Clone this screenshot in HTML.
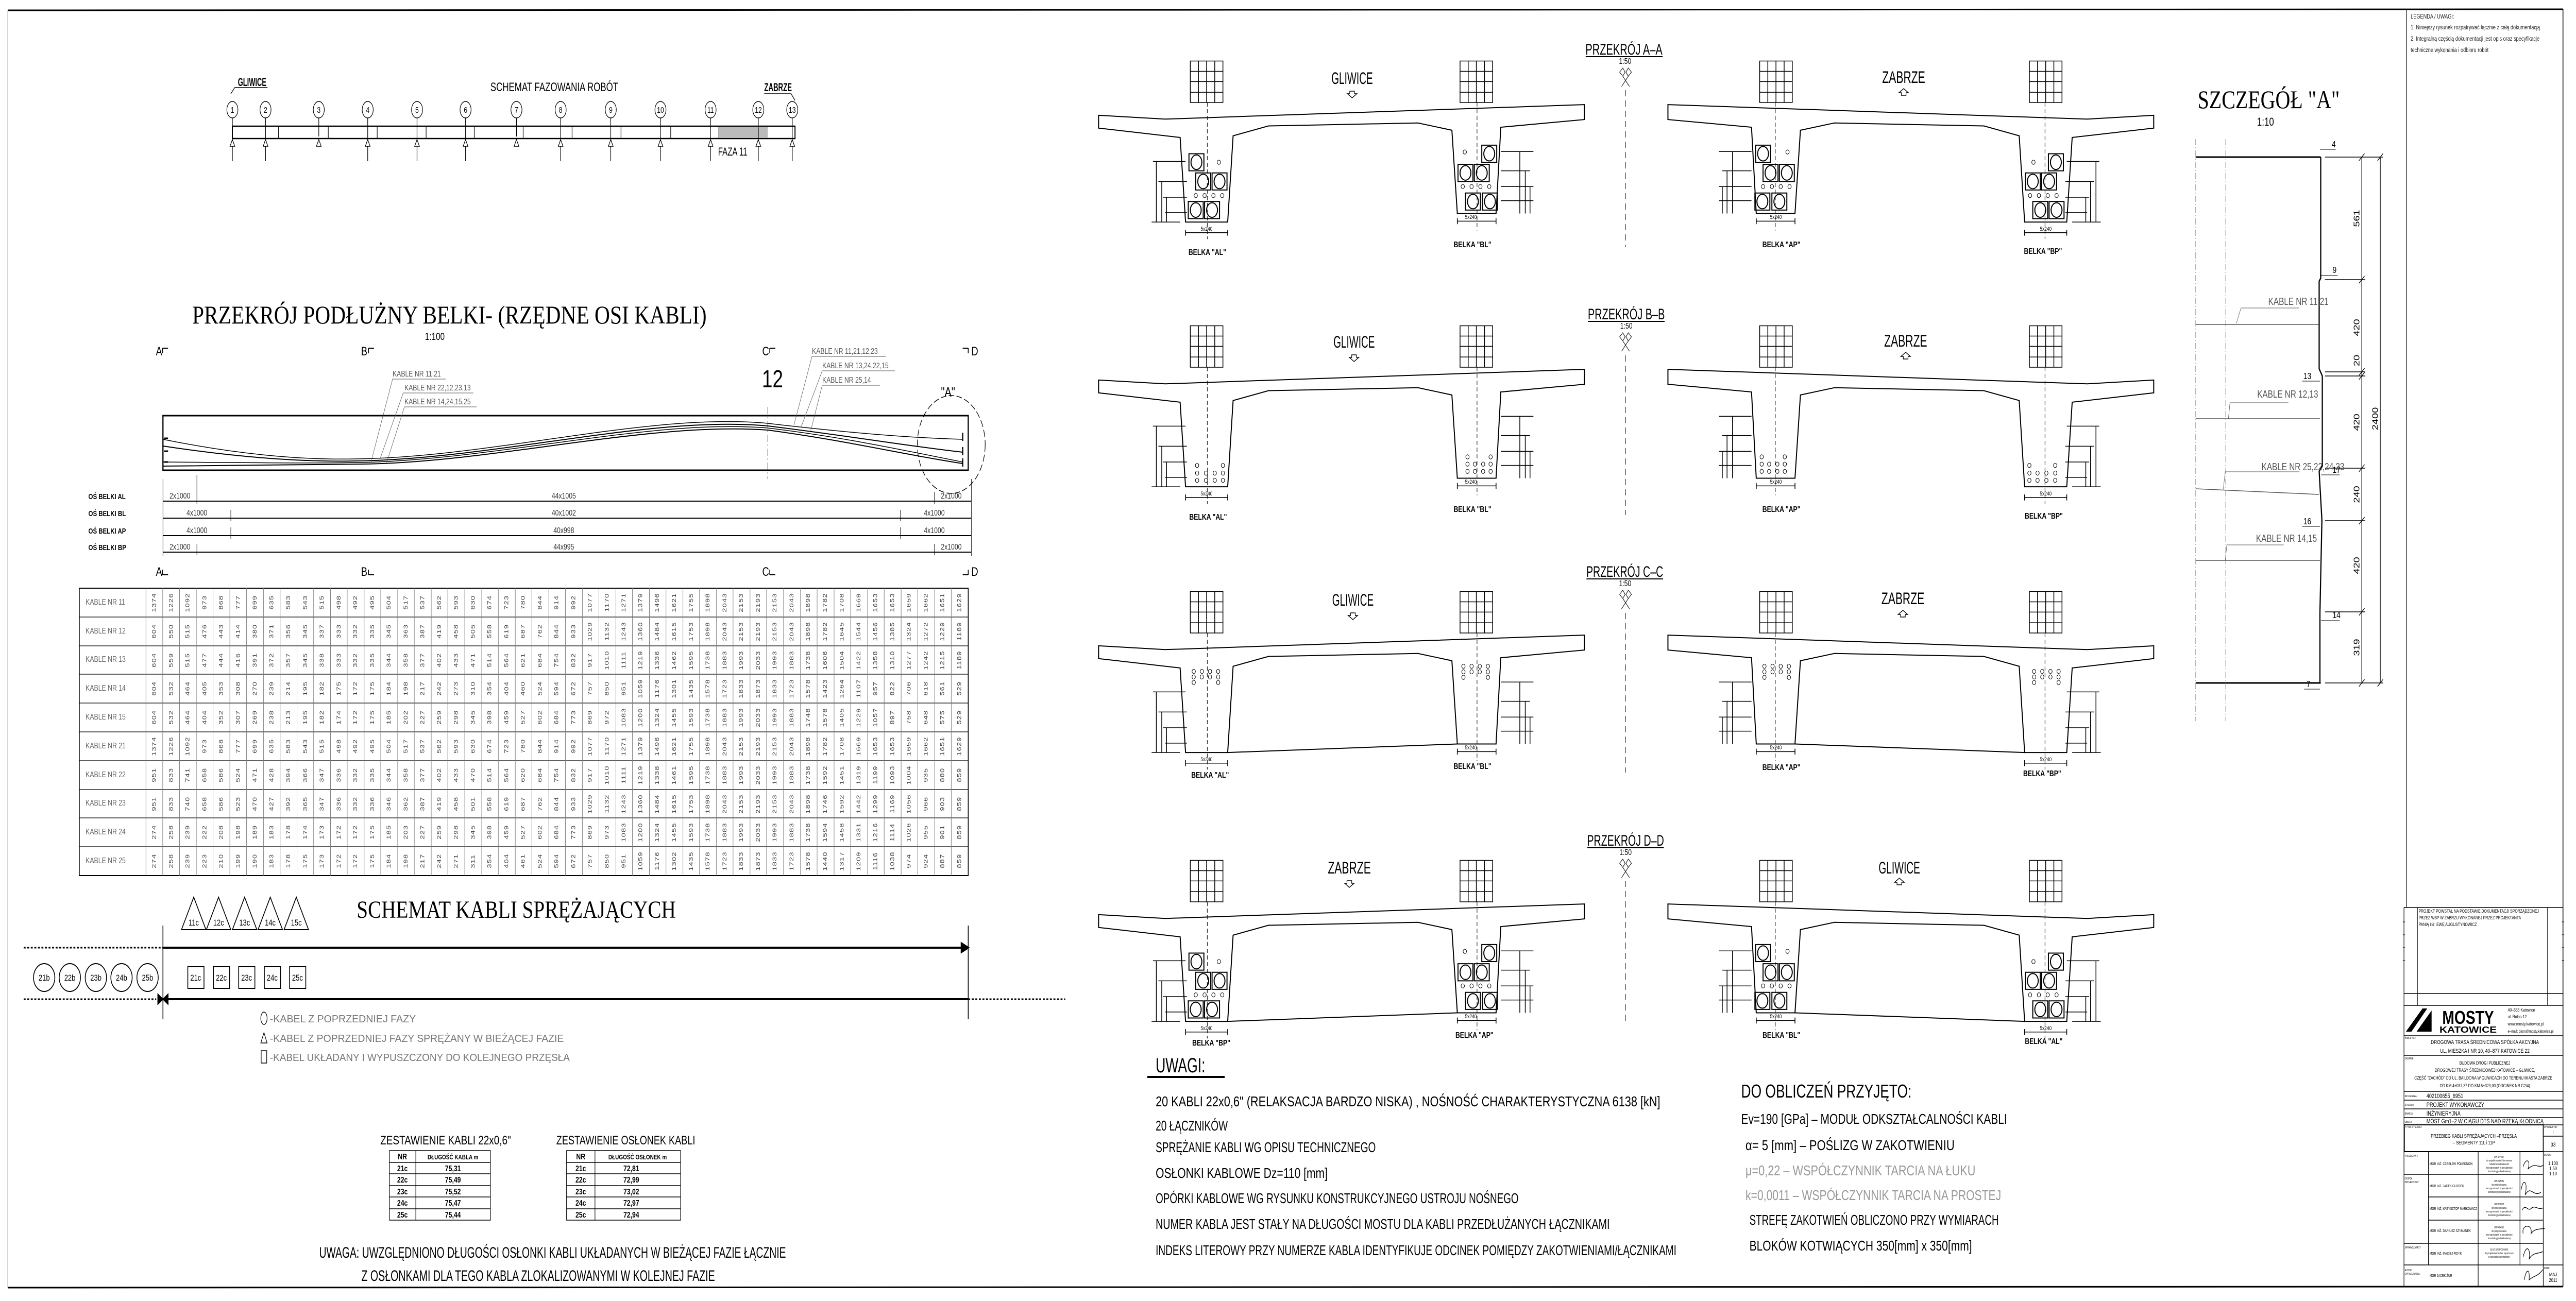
<!DOCTYPE html>
<html><head><meta charset="utf-8">
<style>
html,body{margin:0;padding:0;background:#fff;overflow:hidden;width:100vw;height:100vh}
svg#main{position:absolute;left:0;top:0;width:100vw;height:100vh;display:block}
text{font-family:"Liberation Sans",sans-serif}
.sf{font-family:"Liberation Serif",serif}
#tbl{display:grid;grid-template-columns:169px repeat(49,42.53px);grid-auto-rows:55.8px;width:2253px;height:558px}
#tbl b{font:16px "Liberation Sans",sans-serif;color:#666;display:flex;align-items:center;padding-left:16px;white-space:nowrap}
#tbl i{font:15px "Liberation Sans",sans-serif;font-style:normal;letter-spacing:1px;color:#444;writing-mode:vertical-rl;transform:rotate(180deg);text-align:center;line-height:42px}
</style></head><body>
<svg id="main" viewBox="0 0 6529 2526" preserveAspectRatio="none" xmlns="http://www.w3.org/2000/svg">
<rect x="0" y="0" width="6529" height="2526" fill="#fff"/>
<defs>
<g id="shape" fill="none" stroke="#000">
<polygon vector-effect="non-scaling-stroke" stroke-width="2" points="20,270 118,279 735,245 735,280 612,298 605,500 548,500 540,305 490,288 270,295 218,318 210,520 148,520 140,322 20,300"/>
<line vector-effect="non-scaling-stroke" stroke-width="1" stroke-dasharray="8,5" x1="180" y1="240" x2="180" y2="560"/>
<line vector-effect="non-scaling-stroke" stroke-width="1" stroke-dasharray="8,5" x1="577" y1="240" x2="577" y2="540"/>
<g stroke-width="1.5">
<rect vector-effect="non-scaling-stroke" x="155" y="143" width="48" height="97"/>
<path vector-effect="non-scaling-stroke" d="M167,143V240M179,143V240M191,143V240M155,167H203M155,191H203M155,216H203"/>
<rect vector-effect="non-scaling-stroke" x="552" y="143" width="48" height="97"/>
<path vector-effect="non-scaling-stroke" d="M564,143V240M576,143V240M588,143V240M552,167H600M552,191H600M552,216H600"/>
<path vector-effect="non-scaling-stroke" d="M148,545H210M148,538V552M210,538V552M548,518H605M548,511V525M605,511V525"/>
<path vector-effect="non-scaling-stroke" d="M105,378V520M113,425V520M120,462V520M100,378H148M108,425H150M115,462H150M118,498H150M98,520H140"/>
<path vector-effect="non-scaling-stroke" d="M640,355V500M648,400V500M655,437V500M612,355H660M612,400H655M612,437H660M612,470H660"/>
</g>
</g>
<g id="ducts" fill="none" stroke="#000">
<g stroke-width="2">
<rect vector-effect="non-scaling-stroke" x="153" y="360" width="22" height="40"/><ellipse vector-effect="non-scaling-stroke" cx="164" cy="380" rx="8" ry="17"/>
<rect vector-effect="non-scaling-stroke" x="163" y="405" width="22" height="40"/><ellipse vector-effect="non-scaling-stroke" cx="174" cy="425" rx="8" ry="17"/>
<rect vector-effect="non-scaling-stroke" x="187" y="405" width="22" height="40"/><ellipse vector-effect="non-scaling-stroke" cx="198" cy="425" rx="8" ry="17"/>
<rect vector-effect="non-scaling-stroke" x="152" y="472" width="22" height="40"/><ellipse vector-effect="non-scaling-stroke" cx="163" cy="492" rx="8" ry="17"/>
<rect vector-effect="non-scaling-stroke" x="176" y="472" width="22" height="40"/><ellipse vector-effect="non-scaling-stroke" cx="187" cy="492" rx="8" ry="17"/>
<rect vector-effect="non-scaling-stroke" x="584" y="340" width="22" height="40"/><ellipse vector-effect="non-scaling-stroke" cx="595" cy="360" rx="8" ry="17"/>
<rect vector-effect="non-scaling-stroke" x="549" y="385" width="22" height="40"/><ellipse vector-effect="non-scaling-stroke" cx="560" cy="405" rx="8" ry="17"/>
<rect vector-effect="non-scaling-stroke" x="573" y="385" width="22" height="40"/><ellipse vector-effect="non-scaling-stroke" cx="584" cy="405" rx="8" ry="17"/>
<rect vector-effect="non-scaling-stroke" x="560" y="452" width="22" height="40"/><ellipse vector-effect="non-scaling-stroke" cx="571" cy="472" rx="8" ry="17"/>
<rect vector-effect="non-scaling-stroke" x="585" y="452" width="22" height="40"/><ellipse vector-effect="non-scaling-stroke" cx="596" cy="472" rx="8" ry="17"/>
</g>
<g stroke-width="1">
<ellipse vector-effect="non-scaling-stroke" cx="197" cy="380" rx="2.5" ry="5"/>
<ellipse vector-effect="non-scaling-stroke" cx="163" cy="458" rx="2.5" ry="5"/><ellipse vector-effect="non-scaling-stroke" cx="176" cy="458" rx="2.5" ry="5"/><ellipse vector-effect="non-scaling-stroke" cx="189" cy="458" rx="2.5" ry="5"/><ellipse vector-effect="non-scaling-stroke" cx="202" cy="458" rx="2.5" ry="5"/>
<ellipse vector-effect="non-scaling-stroke" cx="559" cy="356" rx="2.5" ry="5"/>
<ellipse vector-effect="non-scaling-stroke" cx="556" cy="437" rx="2.5" ry="5"/><ellipse vector-effect="non-scaling-stroke" cx="569" cy="437" rx="2.5" ry="5"/><ellipse vector-effect="non-scaling-stroke" cx="582" cy="437" rx="2.5" ry="5"/><ellipse vector-effect="non-scaling-stroke" cx="595" cy="437" rx="2.5" ry="5"/>
</g>
</g>
<g id="circB" fill="none" stroke="#000" stroke-width="1">
<ellipse vector-effect="non-scaling-stroke" cx="165" cy="470" rx="2.5" ry="5"/><ellipse vector-effect="non-scaling-stroke" cx="203" cy="470" rx="2.5" ry="5"/>
<ellipse vector-effect="non-scaling-stroke" cx="165" cy="488" rx="2.5" ry="5"/><ellipse vector-effect="non-scaling-stroke" cx="178" cy="488" rx="2.5" ry="5"/><ellipse vector-effect="non-scaling-stroke" cx="191" cy="488" rx="2.5" ry="5"/><ellipse vector-effect="non-scaling-stroke" cx="203" cy="488" rx="2.5" ry="5"/>
<ellipse vector-effect="non-scaling-stroke" cx="165" cy="505" rx="2.5" ry="5"/><ellipse vector-effect="non-scaling-stroke" cx="178" cy="505" rx="2.5" ry="5"/><ellipse vector-effect="non-scaling-stroke" cx="191" cy="505" rx="2.5" ry="5"/><ellipse vector-effect="non-scaling-stroke" cx="203" cy="505" rx="2.5" ry="5"/>
<ellipse vector-effect="non-scaling-stroke" cx="563" cy="450" rx="2.5" ry="5"/><ellipse vector-effect="non-scaling-stroke" cx="597" cy="450" rx="2.5" ry="5"/>
<ellipse vector-effect="non-scaling-stroke" cx="563" cy="467" rx="2.5" ry="5"/><ellipse vector-effect="non-scaling-stroke" cx="574" cy="467" rx="2.5" ry="5"/><ellipse vector-effect="non-scaling-stroke" cx="586" cy="467" rx="2.5" ry="5"/><ellipse vector-effect="non-scaling-stroke" cx="597" cy="467" rx="2.5" ry="5"/>
<ellipse vector-effect="non-scaling-stroke" cx="563" cy="484" rx="2.5" ry="5"/><ellipse vector-effect="non-scaling-stroke" cx="574" cy="484" rx="2.5" ry="5"/><ellipse vector-effect="non-scaling-stroke" cx="586" cy="484" rx="2.5" ry="5"/><ellipse vector-effect="non-scaling-stroke" cx="597" cy="484" rx="2.5" ry="5"/>
</g>
<g id="circC" fill="none" stroke="#000" stroke-width="1">
<ellipse vector-effect="non-scaling-stroke" cx="160" cy="330" rx="2.5" ry="5"/><ellipse vector-effect="non-scaling-stroke" cx="172" cy="330" rx="2.5" ry="5"/><ellipse vector-effect="non-scaling-stroke" cx="184" cy="330" rx="2.5" ry="5"/><ellipse vector-effect="non-scaling-stroke" cx="196" cy="330" rx="2.5" ry="5"/>
<ellipse vector-effect="non-scaling-stroke" cx="160" cy="343" rx="2.5" ry="5"/><ellipse vector-effect="non-scaling-stroke" cx="172" cy="343" rx="2.5" ry="5"/><ellipse vector-effect="non-scaling-stroke" cx="184" cy="343" rx="2.5" ry="5"/><ellipse vector-effect="non-scaling-stroke" cx="196" cy="343" rx="2.5" ry="5"/>
<ellipse vector-effect="non-scaling-stroke" cx="160" cy="356" rx="2.5" ry="5"/><ellipse vector-effect="non-scaling-stroke" cx="196" cy="356" rx="2.5" ry="5"/>
<ellipse vector-effect="non-scaling-stroke" cx="557" cy="318" rx="2.5" ry="5"/><ellipse vector-effect="non-scaling-stroke" cx="569" cy="318" rx="2.5" ry="5"/><ellipse vector-effect="non-scaling-stroke" cx="581" cy="318" rx="2.5" ry="5"/><ellipse vector-effect="non-scaling-stroke" cx="593" cy="318" rx="2.5" ry="5"/>
<ellipse vector-effect="non-scaling-stroke" cx="557" cy="331" rx="2.5" ry="5"/><ellipse vector-effect="non-scaling-stroke" cx="569" cy="331" rx="2.5" ry="5"/><ellipse vector-effect="non-scaling-stroke" cx="581" cy="331" rx="2.5" ry="5"/><ellipse vector-effect="non-scaling-stroke" cx="593" cy="331" rx="2.5" ry="5"/>
<ellipse vector-effect="non-scaling-stroke" cx="557" cy="344" rx="2.5" ry="5"/><ellipse vector-effect="non-scaling-stroke" cx="593" cy="344" rx="2.5" ry="5"/>
</g>
<line id="slab" vector-effect="non-scaling-stroke" stroke="#000" stroke-width="2" x1="210" y1="520" x2="548" y2="500"/>
</defs>

<!-- frame -->
<g stroke="#000" fill="none">
<line x1="20" y1="20" x2="6496" y2="18" stroke-width="3"/>
<line x1="20" y1="20" x2="20" y2="2500" stroke-width="1.5" stroke="#777"/>
<line x1="20" y1="2500" x2="6496" y2="2498" stroke-width="3"/>
<line x1="6099" y1="18" x2="6099" y2="1762" stroke-width="1.5"/>
<line x1="6496" y1="18" x2="6496" y2="2498" stroke-width="2"/>
</g>

<!-- SCHEMAT FAZOWANIA -->
<g stroke="#000" fill="none" stroke-width="1.5">
<rect x="589" y="245" width="1426" height="24" stroke-width="2.5"/>
<rect x="1822" y="246" width="124" height="22" fill="#bbb" stroke="none"/>
<path d="M706,245V269M832,245V269M956,245V269M1080,245V269M1202,245V269M1326,245V269M1450,245V269M1574,245V269M1700,245V269M1822,245V269"/>
<path d="M589,229V313M673,229V313M808,229V265M932,229V313M1057,229V313M1180,229V313M1309,229V265M1421,229V313M1548,229V313M1674,229V313M1801,229V313M1922,229V313M2008,229V313"/>
<g fill="#fff">
<ellipse cx="589" cy="213" rx="14" ry="16"/><ellipse cx="673" cy="213" rx="14" ry="16"/><ellipse cx="808" cy="213" rx="14" ry="16"/><ellipse cx="932" cy="213" rx="14" ry="16"/><ellipse cx="1057" cy="213" rx="14" ry="16"/><ellipse cx="1180" cy="213" rx="14" ry="16"/><ellipse cx="1309" cy="213" rx="14" ry="16"/><ellipse cx="1421" cy="213" rx="14" ry="16"/><ellipse cx="1548" cy="213" rx="14" ry="16"/><ellipse cx="1674" cy="213" rx="14" ry="16"/><ellipse cx="1801" cy="213" rx="14" ry="16"/><ellipse cx="1922" cy="213" rx="14" ry="16"/><ellipse cx="2008" cy="213" rx="14" ry="16"/>
<path d="M589,271l-6,13h12zM673,271l-6,13h12zM808,271l-6,13h12zM932,271l-6,13h12zM1057,271l-6,13h12zM1180,271l-6,13h12zM1309,271l-6,13h12zM1421,271l-6,13h12zM1548,271l-6,13h12zM1674,271l-6,13h12zM1801,271l-6,13h12zM1922,271l-6,13h12zM2008,271l-6,13h12z"/>
</g>
<path d="M585,182L595,170H678M1937,182H2005L2015,195"/>
</g>
<g font-size="16" text-anchor="middle">
<text x="589" y="219">1</text><text x="673" y="219">2</text><text x="808" y="219">3</text><text x="932" y="219">4</text><text x="1057" y="219">5</text><text x="1180" y="219">6</text><text x="1309" y="219">7</text><text x="1421" y="219">8</text><text x="1548" y="219">9</text><text x="1674" y="219">10</text><text x="1801" y="219">11</text><text x="1922" y="219">12</text><text x="2008" y="219">13</text>
</g>
<text x="603" y="167" font-size="22" font-weight="bold" textLength="72" lengthAdjust="spacingAndGlyphs">GLIWICE</text>
<text x="1243" y="177" font-size="24" textLength="324" lengthAdjust="spacingAndGlyphs">SCHEMAT FAZOWANIA ROBÓT</text>
<text x="1937" y="177" font-size="22" font-weight="bold" textLength="70" lengthAdjust="spacingAndGlyphs">ZABRZE</text>
<text x="1820" y="302" font-size="22" textLength="74" lengthAdjust="spacingAndGlyphs">FAZA 11</text>

<!-- PRZEKROJ PODLUZNY -->
<text class="sf" x="487" y="628" font-size="50" textLength="1304" lengthAdjust="spacingAndGlyphs">PRZEKRÓJ PODŁUŻNY BELKI- (RZĘDNE OSI KABLI)</text>
<text x="1102" y="660" font-size="20" text-anchor="middle">1:100</text>
<g font-size="24">
<text x="395" y="690">A</text><text x="915" y="690">B</text><text x="1932" y="690">C</text><text x="2462" y="690">D</text>
<text x="395" y="1118">A</text><text x="915" y="1118">B</text><text x="1932" y="1118">C</text><text x="2462" y="1118">D</text>
</g>
<path d="M412,676h14m-14,0v10M934,676h14m-14,0v10M1951,676h14m-14,0v10M2440,676h14m0,0v10M412,1116h14m-14,0v-10M934,1116h14m-14,0v-10M1951,1116h14m-14,0v-10M2440,1116h14m0,0v-10" stroke="#000" stroke-width="2" fill="none"/>
<text x="1958" y="752" font-size="48" text-anchor="middle">12</text>
<g stroke="#000" fill="none">
<rect x="413" y="807" width="2041" height="106" stroke-width="3"/>
<path stroke-width="1.5" d="M413,853 C620,885 780,893 900,891 C1250,888 1650,800 1946,822 C2150,840 2300,850 2440,853"/>
<path stroke-width="2" d="M413,866 C620,890 780,897 900,895 C1250,892 1650,806 1946,827 C2150,846 2300,866 2440,878"/>
<path stroke-width="1.5" d="M413,897 C620,898 780,900 900,898 C1250,895 1650,812 1946,831 C2150,850 2300,876 2440,897"/>
<path stroke-width="2" d="M413,905 C620,903 780,903 920,901 C1250,898 1650,818 1946,835 C2150,856 2300,884 2440,900"/>
<path stroke-width="1" d="M1946,790V930" stroke-dasharray="14,5,3,5"/>
<ellipse cx="2411" cy="863" rx="86" ry="95" stroke-dasharray="14,6" stroke-width="1.5"/>
<path stroke-width="1" stroke="#555" d="M940,898L995,736H1130M960,898L1022,763H1200M980,898L1025,790H1208M2012,826L2058,692H2245M2030,830L2084,720H2268M2055,836L2084,748H2230"/>
<path stroke-width="3" d="M416,851h10M416,876h10M416,897h10M2440,840v16M2440,868v16M2440,890v16"/>
</g>
<g font-size="16" fill="#555">
<text x="995" y="731">KABLE NR 11,21</text><text x="1025" y="758">KABLE NR 22,12,23,13</text><text x="1025" y="785">KABLE NR 14,24,15,25</text>
<text x="2058" y="687">KABLE NR 11,21,12,23</text><text x="2084" y="715">KABLE NR 13,24,22,15</text><text x="2084" y="743">KABLE NR 25,14</text>
</g>
<text x="2385" y="770" font-size="26">"A"</text>
<g stroke="#000" fill="none" stroke-width="2">
<path d="M413,973H2462M413,1006H2462M413,1040H2462M413,1072H2462"/>
<path stroke-width="1" d="M413,930V1080M499,922V978M2368,955V978M2462,930V1080M585,990V1012M2282,990V1012M585,1024V1046M2282,1024V1046M499,1056V1078M2368,1056V1078"/>
</g>
<g font-size="15" font-weight="bold"><text x="224" y="969">OŚ BELKI AL</text><text x="224" y="1002">OŚ BELKI BL</text><text x="224" y="1036">OŚ BELKI AP</text><text x="224" y="1068">OŚ BELKI BP</text></g>
<g font-size="16" text-anchor="middle" fill="#333">
<text x="456" y="968">2x1000</text><text x="1429" y="968">44x1005</text><text x="2411" y="968">2x1000</text>
<text x="499" y="1001">4x1000</text><text x="1429" y="1001">40x1002</text><text x="2368" y="1001">4x1000</text>
<text x="499" y="1035">4x1000</text><text x="1429" y="1035">40x998</text><text x="2368" y="1035">4x1000</text>
<text x="456" y="1067">2x1000</text><text x="1429" y="1067">44x995</text><text x="2411" y="1067">2x1000</text>
</g>
<g stroke="#000" fill="none" stroke-width="1.2">
<rect x="201" y="1142" width="2253" height="558" stroke-width="2"/>
<path d="M201,1198H2454M201,1254H2454M201,1309H2454M201,1365H2454M201,1421H2454M201,1477H2454M201,1533H2454M201,1588H2454M201,1644H2454"/>
<path stroke="#777" d="M370,1142V1700M412.5,1142V1700M455,1142V1700M497.6,1142V1700M540,1142V1700M582.6,1142V1700M625,1142V1700M667.7,1142V1700M710,1142V1700M752.8,1142V1700M795,1142V1700M837.8,1142V1700M880,1142V1700M922.9,1142V1700M965,1142V1700M1008,1142V1700M1050,1142V1700M1093,1142V1700M1135,1142V1700M1178,1142V1700M1221,1142V1700M1263,1142V1700M1306,1142V1700M1348,1142V1700M1391,1142V1700M1433,1142V1700M1476,1142V1700M1518,1142V1700M1561,1142V1700M1603,1142V1700M1646,1142V1700M1688,1142V1700M1731,1142V1700M1773,1142V1700M1816,1142V1700M1858,1142V1700M1901,1142V1700M1943,1142V1700M1986,1142V1700M2029,1142V1700M2071,1142V1700M2114,1142V1700M2156,1142V1700M2199,1142V1700M2241,1142V1700M2284,1142V1700M2326,1142V1700M2369,1142V1700M2411,1142V1700"/>
</g>

<!-- SCHEMAT KABLI -->
<text class="sf" x="904" y="1782" font-size="48" textLength="809" lengthAdjust="spacingAndGlyphs">SCHEMAT KABLI SPRĘŻAJĄCYCH</text>
<g stroke="#000" fill="none" stroke-width="2">
<path d="M491,1742L460,1805H522ZM554,1742L523,1805H585ZM620,1742L589,1805H651ZM685,1742L654,1805H716ZM751,1742L720,1805H782Z"/>
<path d="M413,1797V1979M2454,1797V1979"/>
<path d="M60,1840H413" stroke-dasharray="5,4" stroke-width="3"/>
<path d="M413,1840H2440" stroke-width="4"/>
<path d="M2436,1830L2456,1840L2436,1850Z" fill="#000"/>
<path d="M60,1940H396M2454,1940H2700" stroke-dasharray="5,4" stroke-width="3"/>
<path d="M413,1940H2454" stroke-width="4"/>
<path d="M400,1930L413,1940L400,1950ZM426,1930L413,1940L426,1950Z" fill="#000"/>
<circle cx="112" cy="1898" r="27"/><circle cx="177" cy="1898" r="27"/><circle cx="243" cy="1898" r="27"/><circle cx="308" cy="1898" r="27"/><circle cx="374" cy="1898" r="27"/>
<rect x="476" y="1877" width="41" height="42"/><rect x="541" y="1877" width="41" height="42"/><rect x="605" y="1877" width="41" height="42"/><rect x="670" y="1877" width="41" height="42"/><rect x="734" y="1877" width="41" height="42"/>
<ellipse cx="669" cy="1977" rx="8" ry="12" stroke-width="1.5"/>
<path d="M669,2005L661,2025H677Z" stroke-width="1.5"/>
<rect x="662" y="2040" width="14" height="24" stroke-width="1.5"/>
</g>
<g font-size="17" text-anchor="middle">
<text x="491" y="1797">11c</text><text x="554" y="1797">12c</text><text x="620" y="1797">13c</text><text x="685" y="1797">14c</text><text x="751" y="1797">15c</text>
<text x="112" y="1904">21b</text><text x="177" y="1904">22b</text><text x="243" y="1904">23b</text><text x="308" y="1904">24b</text><text x="374" y="1904">25b</text>
<text x="496" y="1904">21c</text><text x="561" y="1904">22c</text><text x="625" y="1904">23c</text><text x="690" y="1904">24c</text><text x="754" y="1904">25c</text>
</g>
<g font-size="20" fill="#777">
<text x="684" y="1985" textLength="370" lengthAdjust="spacingAndGlyphs">-KABEL Z POPRZEDNIEJ FAZY</text>
<text x="684" y="2023" textLength="745" lengthAdjust="spacingAndGlyphs">-KABEL Z POPRZEDNIEJ FAZY SPRĘŻANY W BIEŻĄCEJ FAZIE</text>
<text x="684" y="2060" textLength="760" lengthAdjust="spacingAndGlyphs">-KABEL UKŁADANY I WYPUSZCZONY DO KOLEJNEGO PRZĘSŁA</text>
</g>
<text x="964" y="2222" font-size="24" textLength="331" lengthAdjust="spacingAndGlyphs">ZESTAWIENIE KABLI 22x0,6"</text>
<text x="1410" y="2222" font-size="24" textLength="352" lengthAdjust="spacingAndGlyphs">ZESTAWIENIE OSŁONEK KABLI</text>
<g stroke="#000" fill="none" stroke-width="1.5">
<rect x="987" y="2234" width="256" height="135"/><path d="M1054,2234V2369M987,2257H1243M987,2279H1243M987,2302H1243M987,2324H1243M987,2347H1243"/>
<rect x="1436" y="2234" width="289" height="135"/><path d="M1508,2234V2369M1436,2257H1725M1436,2279H1725M1436,2302H1725M1436,2324H1725M1436,2347H1725"/>
</g>
<g font-size="16" text-anchor="middle" font-weight="bold">
<text x="1020" y="2251">NR</text><text x="1148" y="2251" font-size="13">DŁUGOŚĆ KABLA m</text>
<text x="1020" y="2274">21c</text><text x="1148" y="2274">75,31</text>
<text x="1020" y="2296">22c</text><text x="1148" y="2296">75,49</text>
<text x="1020" y="2319">23c</text><text x="1148" y="2319">75,52</text>
<text x="1020" y="2341">24c</text><text x="1148" y="2341">75,47</text>
<text x="1020" y="2364">25c</text><text x="1148" y="2364">75,44</text>
<text x="1472" y="2251">NR</text><text x="1616" y="2251" font-size="13">DŁUGOŚĆ OSŁONEK m</text>
<text x="1472" y="2274">21c</text><text x="1600" y="2274">72,81</text>
<text x="1472" y="2296">22c</text><text x="1600" y="2296">72,99</text>
<text x="1472" y="2319">23c</text><text x="1600" y="2319">73,02</text>
<text x="1472" y="2341">24c</text><text x="1600" y="2341">72,97</text>
<text x="1472" y="2364">25c</text><text x="1600" y="2364">72,94</text>
</g>
<text x="809" y="2442" font-size="30" textLength="1183" lengthAdjust="spacingAndGlyphs">UWAGA: UWZGLĘDNIONO DŁUGOŚCI OSŁONKI KABLI UKŁADANYCH W BIEŻĄCEJ FAZIE ŁĄCZNIE</text>
<text x="916" y="2487" font-size="30" textLength="896" lengthAdjust="spacingAndGlyphs">Z OSŁONKAMI DLA TEGO KABLA ZLOKALIZOWANYMI W KOLEJNEJ FAZIE</text>

<!-- CROSS SECTIONS -->
<g transform="translate(2750,0) scale(1.722,0.829)">
<use href="#shape"/><use href="#ducts"/>
<g transform="translate(1593,0) scale(-1,1)"><use href="#shape"/><use href="#ducts"/></g>
</g>
<g transform="translate(2750,514) scale(1.722,0.829)">
<use href="#shape"/><use href="#circB"/>
<g transform="translate(1593,0) scale(-1,1)"><use href="#shape"/><use href="#circB"/></g>
</g>
<g transform="translate(2750,1030) scale(1.722,0.829)">
<use href="#shape"/><use href="#circC"/><use href="#slab"/>
<g transform="translate(1593,0) scale(-1,1)"><use href="#shape"/><use href="#circC"/><use href="#slab"/></g>
</g>
<g transform="translate(2750,1552) scale(1.722,0.829)">
<use href="#shape"/><use href="#ducts"/><use href="#slab"/>
<g transform="translate(1593,0) scale(-1,1)"><use href="#shape"/><use href="#ducts"/><use href="#slab"/></g>
</g>
<g font-size="30" text-anchor="middle">
<text x="4116" y="106" textLength="195" lengthAdjust="spacingAndGlyphs">PRZEKRÓJ A–A</text>
<text x="4122" y="620" textLength="195" lengthAdjust="spacingAndGlyphs">PRZEKRÓJ B–B</text>
<text x="4118" y="1120" textLength="195" lengthAdjust="spacingAndGlyphs">PRZEKRÓJ C–C</text>
<text x="4120" y="1642" textLength="195" lengthAdjust="spacingAndGlyphs">PRZEKRÓJ D–D</text>
</g>
<g stroke="#000" stroke-width="2" fill="none">
<path d="M4019,110H4214M4025,624H4219M4021,1124H4215M4023,1646H4217"/>
<g stroke-width="1.2">
<path d="M4105,140l8,-8l6,8l-6,8zM4135,140l-8,-8l-6,8l6,8zM4113,148L4130,168M4127,148L4110,168"/>
<path d="M4105,654l8,-8l6,8l-6,8zM4135,654l-8,-8l-6,8l6,8zM4113,662L4130,682M4127,662L4110,682"/>
<path d="M4105,1154l8,-8l6,8l-6,8zM4135,1154l-8,-8l-6,8l6,8zM4113,1162L4130,1182M4127,1162L4110,1182"/>
<path d="M4105,1676l8,-8l6,8l-6,8zM4135,1676l-8,-8l-6,8l6,8zM4113,1684L4130,1704M4127,1684L4110,1704"/>
<path stroke-dasharray="12,8" d="M4120,175V480M4120,690V1000M4120,1190V1500M4120,1710V1990"/>
</g>
</g>
<g font-size="16" text-anchor="middle">
<text x="4119" y="124">1:50</text><text x="4122" y="638">1:50</text><text x="4119" y="1138">1:50</text><text x="4120" y="1660">1:50</text>
</g>
<g font-size="32" text-anchor="middle">
<text x="3427" y="163" textLength="105" lengthAdjust="spacingAndGlyphs">GLIWICE</text>
<text x="4825" y="161" textLength="109" lengthAdjust="spacingAndGlyphs">ZABRZE</text>
<text x="3432" y="675" textLength="105" lengthAdjust="spacingAndGlyphs">GLIWICE</text>
<text x="4830" y="673" textLength="109" lengthAdjust="spacingAndGlyphs">ZABRZE</text>
<text x="3429" y="1176" textLength="105" lengthAdjust="spacingAndGlyphs">GLIWICE</text>
<text x="4823" y="1173" textLength="109" lengthAdjust="spacingAndGlyphs">ZABRZE</text>
<text x="3420" y="1696" textLength="109" lengthAdjust="spacingAndGlyphs">ZABRZE</text>
<text x="4814" y="1696" textLength="105" lengthAdjust="spacingAndGlyphs">GLIWICE</text>
</g>
<g stroke="#000" stroke-width="1.5" fill="none">
<path d="M3421,177h12v5h6l-12,8l-12,-8h6z"/>
<path d="M4819,185h12v-5h6l-12,-8l-12,8h6z"/>
<path d="M3426,689h12v5h6l-12,8l-12,-8h6z"/>
<path d="M4824,697h12v-5h6l-12,-8l-12,8h6z"/>
<path d="M3423,1190h12v5h6l-12,8l-12,-8h6z"/>
<path d="M4817,1198h12v-5h6l-12,-8l-12,8h6z"/>
<path d="M3414,1710h12v5h6l-12,8l-12,-8h6z"/>
<path d="M4808,1718h12v-5h6l-12,-8l-12,8h6z"/>
</g>
<g font-size="16" font-weight="bold" text-anchor="middle">
<text x="3060" y="495">BELKA "AL"</text><text x="3732" y="480">BELKA "BL"</text><text x="4515" y="480">BELKA "AP"</text><text x="5178" y="493">BELKA "BP"</text>
<text x="3062" y="1009">BELKA "AL"</text><text x="3732" y="994">BELKA "BL"</text><text x="4515" y="994">BELKA "AP"</text><text x="5180" y="1007">BELKA "BP"</text>
<text x="3067" y="1510">BELKA "AL"</text><text x="3732" y="1493">BELKA "BL"</text><text x="4515" y="1495">BELKA "AP"</text><text x="5176" y="1507">BELKA "BP"</text>
<text x="3070" y="2030">BELKA "BP"</text><text x="3737" y="2015">BELKA "AP"</text><text x="4515" y="2015">BELKA "BL"</text><text x="5180" y="2027">BELKA "AL"</text>
</g>
<g font-size="11" text-anchor="middle">
<text x="3058" y="448">5x240</text><text x="3728" y="425">5x240</text><text x="4501" y="425">5x240</text><text x="5185" y="448">5x240</text>
<text x="3058" y="962">5x240</text><text x="3728" y="939">5x240</text><text x="4501" y="939">5x240</text><text x="5185" y="962">5x240</text>
<text x="3058" y="1478">5x240</text><text x="3728" y="1455">5x240</text><text x="4501" y="1455">5x240</text><text x="5185" y="1478">5x240</text>
<text x="3058" y="2000">5x240</text><text x="3728" y="1977">5x240</text><text x="4501" y="1977">5x240</text><text x="5185" y="2000">5x240</text>
</g>

<!-- UWAGI -->
<text x="2929" y="2082" font-size="40" textLength="126" lengthAdjust="spacingAndGlyphs">UWAGI:</text>
<line x1="2908" y1="2091" x2="3104" y2="2091" stroke="#000" stroke-width="4"/>
<g font-size="28">
<text x="2929" y="2148" textLength="1279" lengthAdjust="spacingAndGlyphs">20 KABLI 22x0,6" (RELAKSACJA BARDZO NISKA) , NOŚNOŚĆ CHARAKTERYSTYCZNA 6138 [kN]</text>
<text x="2929" y="2195" textLength="183" lengthAdjust="spacingAndGlyphs">20 ŁĄCZNIKÓW</text>
<text x="2929" y="2237" textLength="558" lengthAdjust="spacingAndGlyphs">SPRĘŻANIE KABLI WG OPISU TECHNICZNEGO</text>
<text x="2929" y="2287" textLength="436" lengthAdjust="spacingAndGlyphs">OSŁONKI KABLOWE Dz=110 [mm]</text>
<text x="2929" y="2336" textLength="920" lengthAdjust="spacingAndGlyphs">OPÓRKI KABLOWE WG RYSUNKU KONSTRUKCYJNEGO USTROJU NOŚNEGO</text>
<text x="2929" y="2386" textLength="1151" lengthAdjust="spacingAndGlyphs">NUMER KABLA JEST STAŁY NA DŁUGOŚCI MOSTU DLA KABLI PRZEDŁUŻANYCH ŁĄCZNIKAMI</text>
<text x="2929" y="2437" textLength="1320" lengthAdjust="spacingAndGlyphs">INDEKS LITEROWY PRZY NUMERZE KABLA IDENTYFIKUJE ODCINEK POMIĘDZY ZAKOTWIENIAMI/ŁĄCZNIKAMI</text>
<text x="4413" y="2131" font-size="36" textLength="432" lengthAdjust="spacingAndGlyphs">DO OBLICZEŃ PRZYJĘTO:</text>
<text x="4413" y="2182" textLength="674" lengthAdjust="spacingAndGlyphs">Ev=190 [GPa] – MODUŁ ODKSZTAŁCALNOŚCI KABLI</text>
<text x="4424" y="2233" textLength="530" lengthAdjust="spacingAndGlyphs">α= 5 [mm] – POŚLIZG W ZAKOTWIENIU</text>
<text x="4424" y="2282" textLength="583" lengthAdjust="spacingAndGlyphs" fill="#999">μ=0,22 – WSPÓŁCZYNNIK TARCIA NA ŁUKU</text>
<text x="4424" y="2330" textLength="648" lengthAdjust="spacingAndGlyphs" fill="#999">k=0,0011 – WSPÓŁCZYNNIK TARCIA NA PROSTEJ</text>
<text x="4434" y="2378" textLength="632" lengthAdjust="spacingAndGlyphs">STREFĘ ZAKOTWIEŃ OBLICZONO PRZY WYMIARACH</text>
<text x="4434" y="2428" textLength="564" lengthAdjust="spacingAndGlyphs">BLOKÓW KOTWIĄCYCH 350[mm] x 350[mm]</text>
</g>

<!-- SZCZEGOL A -->
<text class="sf" x="5570" y="210" font-size="50" textLength="360" lengthAdjust="spacingAndGlyphs">SZCZEGÓŁ "A"</text>
<text x="5742" y="244" font-size="22" text-anchor="middle">1:10</text>
<g stroke="#000" fill="none">
<path stroke-width="3" d="M5565,305H5882M5565,1326H5882"/>
<path stroke-width="3" d="M5882,305V540L5878,546V716L5886,730V905L5878,915L5885,1010L5880,1190V1326"/>
<path stroke-width="1" stroke="#888" stroke-dasharray="12,4,2,4" d="M5565,270V1400M5641,270V1400"/>
<path stroke-width="1.5" stroke="#555" d="M5565,630H5877M5565,813H5880M5565,949L5877,960M5565,1088H5880"/>
<path stroke-width="1" stroke="#555" d="M5668,628L5680,598H5827M5648,813L5652,782H5800M5635,950L5640,916H5828M5640,1088L5644,1058H5788"/>
<path stroke-width="1.5" d="M5986,305V1326M6033,305V1326M5893,305H6040M5893,543H5995M5893,722H5995M5893,730H5995M5893,909H5995M5893,1011H5995M5893,1188H5995M5893,1326H6040"/>
<path stroke-width="1.5" d="M5979,312l14,-14M5979,550l14,-14M5979,729l14,-14M5979,737l14,-14M5979,916l14,-14M5979,1018l14,-14M5979,1195l14,-14M5979,1333l14,-14M6026,312l14,-14M6026,1333l14,-14"/>
<path stroke-width="1" d="M5880,290H5920M5880,535H5925M5835,740H5880M5883,922H5930M5835,1022H5880M5883,1205H5930M5840,1338H5880"/>
</g>
<g font-size="20" fill="#555">
<text x="5749" y="592">KABLE NR 11,21</text><text x="5721" y="772">KABLE NR 12,13</text><text x="5732" y="913">KABLE NR 25,22,24,23</text><text x="5718" y="1052">KABLE NR 14,15</text>
</g>
<g font-size="18">
<text x="5910" y="286">4</text><text x="5912" y="530">9</text><text x="5838" y="736">13</text><text x="5912" y="918">17</text><text x="5838" y="1018">16</text><text x="5912" y="1200">14</text><text x="5846" y="1334">7</text>
</g>
<g font-size="20" text-anchor="middle">
<text transform="translate(5980,424) rotate(-90)">561</text>
<text transform="translate(5980,636) rotate(-90)">420</text>
<text transform="translate(5980,700) rotate(-90)">20</text>
<text transform="translate(5980,820) rotate(-90)">420</text>
<text transform="translate(5980,960) rotate(-90)">240</text>
<text transform="translate(5980,1098) rotate(-90)">420</text>
<text transform="translate(5980,1257) rotate(-90)">319</text>
<text transform="translate(6027,813) rotate(-90)">2400</text>
</g>
<g font-size="12" fill="#222">
<text x="6110" y="36">LEGENDA / UWAGI:</text>
<text x="6110" y="57">1. Niniejszy rysunek rozpatrywać łącznie z całą dokumentacją</text>
<text x="6110" y="79">2. Integralną częścią dokumentacji jest opis oraz specyfikacje</text>
<text x="6110" y="101">techniczne wykonania i odbioru robót</text>
</g>

<!-- TITLE BLOCK -->
<g stroke="#000" fill="none" stroke-width="1.5">
<path d="M6093,1762H6496M6093,1762V2498M6127,1762V1952M6457,1762V1952M6093,1929H6496M6093,1952H6496M6093,2011H6496M6093,2049H6496M6093,2119H6496M6093,2136H6496M6093,2153H6496M6093,2170H6496M6093,2184H6496"/>
<rect x="6094" y="2184" width="352" height="52" stroke-width="2"/>
<path d="M6446,2184V2236M6446,2206H6496M6093,2236H6496M6155,2236V2456M6281,2236V2498M6387,2236V2456M6446,2236V2498M6093,2280H6446M6155,2324H6446M6155,2369H6446M6093,2414H6446M6093,2456H6496M6446,2456H6496"/>
<path stroke-width="1" d="M6090,1790h6M6090,1815h6M6090,1840h6M6090,1865h6M6493,1790h6M6493,1815h6M6493,1840h6M6493,1865h6"/>
<path stroke-width="1.3" d="M6395,2265c8,-20 20,-10 12,5c20,-15 25,0 40,-8M6390,2310c5,-25 18,-15 10,10c15,-20 20,5 40,-5M6392,2350c10,-15 15,5 25,-5c10,-5 15,5 30,0M6395,2395c-5,-18 25,-20 20,0c10,-10 20,-8 35,-10M6395,2440c10,-30 20,-10 15,5c10,-15 25,-10 35,-15M6398,2485c5,-25 15,-20 12,0c15,-10 20,-5 35,-20"/>
</g>
<path d="M6098,2003L6140,1958H6152L6112,2003ZM6125,2003L6163,1962V2003Z" fill="#000"/>
<text x="6190" y="1988" font-size="36" font-weight="bold" textLength="131" lengthAdjust="spacingAndGlyphs">MOSTY</text>
<text x="6183" y="2005" font-size="18" font-weight="bold" textLength="145" lengthAdjust="spacingAndGlyphs">KATOWICE</text>
<g font-size="9">
<text x="6130" y="1772">PROJEKT POWSTAŁ NA PODSTAWIE DOKUMENTACJI SPORZĄDZONEJ</text>
<text x="6130" y="1785">PRZEZ WBP W ZABRZU WYKONANEJ PRZEZ PROJEKTANTA</text>
<text x="6130" y="1798">PANIĄ inż. EWĘ AUGUSTYNOWICZ</text>
<text x="6356" y="1964">40–555 Katowice</text><text x="6356" y="1977">ul. Rolna 12</text><text x="6356" y="1991">www.mosty.katowice.pl</text><text x="6356" y="2005" font-size="8">e–mail: biuro@mosty.katowice.pl</text>
</g>
<g font-size="5"><text x="6095" y="2017">INWESTOR:</text><text x="6095" y="2057">ZADANIE:</text><text x="6095" y="2130">NR ZADANIA:</text><text x="6095" y="2147">STADIUM:</text><text x="6095" y="2164">BRANŻA:</text><text x="6095" y="2180">OBIEKT:</text><text x="6096" y="2190">TYTUŁ RYSUNKU:</text><text x="6448" y="2190">RYSUNEK NR:</text>
<text x="6095" y="2246">PROJEKTANT:</text><text x="6095" y="2290">ZESPÓŁ</text><text x="6095" y="2297">PROJEKTOWY:</text><text x="6095" y="2424">SPRAWDZAJĄCY:</text><text x="6095" y="2468">AUTOR</text><text x="6095" y="2475">OPRACOWANIA:</text><text x="6448" y="2244">SKALA:</text><text x="6448" y="2464">DATA:</text></g>
<g font-size="11" text-anchor="middle">
<text x="6298" y="2027">DROGOWA TRASA ŚREDNICOWA SPÓŁKA AKCYJNA</text>
<text x="6298" y="2044">UL. MIESZKA I NR 10, 40–877 KATOWICE 22</text>
</g>
<g font-size="9" text-anchor="middle">
<text x="6298" y="2067">BUDOWA DROGI PUBLICZNEJ</text>
<text x="6298" y="2081">DROGOWEJ TRASY ŚREDNICOWEJ KATOWICE – GLIWICE,</text>
<text x="6294" y="2096">CZĘŚĆ "ZACHÓD" OD UL. BAILDONA W GLIWICACH DO TERENU MIASTA ZABRZE</text>
<text x="6298" y="2111">OD KM 4+037,37 DO KM 5+320,00 (ODCINEK NR G2/4)</text>
</g>
<g font-size="12">
<text x="6150" y="2132">402100655_6951</text><text x="6150" y="2149">PROJEKT WYKONAWCZY</text><text x="6150" y="2166">INŻYNIERYJNA</text><text x="6150" y="2181">MOST Gm1–2 W CIĄGU DTŚ NAD RZEKĄ KŁODNICĄ</text>
</g>
<g font-size="10" text-anchor="middle">
<text x="6270" y="2209">PRZEBIEG KABLI SPRĘŻAJĄCYCH –PRZĘSŁA</text>
<text x="6270" y="2222">– SEGMENTY 11L i 11P</text>
<text x="6471" y="2202">I</text><text x="6471" y="2226" font-size="11">33</text>
<text x="6471" y="2262">1:100</text><text x="6471" y="2272">1:50</text><text x="6471" y="2282">1:10</text>
<text x="6471" y="2478">MAJ</text><text x="6471" y="2489">2011</text>
</g>
<g font-size="7">
<text x="6158" y="2262">MGR INŻ. CZESŁAW POŁEDNIOK</text>
<text x="6158" y="2305">MGR INŻ. JACEK GŁODEK</text>
<text x="6158" y="2349">MGR INŻ. KRZYSZTOF MARKOWICZ</text>
<text x="6158" y="2392">MGR INŻ. DARIUSZ SZYMANEK</text>
<text x="6158" y="2436">MGR INŻ. MACIEJ FIDYK</text>
<text x="6158" y="2479">MGR JACEK ŻUR</text>
</g>
<g font-size="5" text-anchor="middle">
<text x="6334" y="2248">UW-144/97</text><text x="6334" y="2255">do projektowania i kierowania</text><text x="6334" y="2262">robotami budowlanymi</text><text x="6334" y="2269">bez ograniczeń w specjalności</text><text x="6334" y="2276">konstrukcyjno-budowlanej</text>
<text x="6334" y="2295">UW-425/01</text><text x="6334" y="2302">do projektowania</text><text x="6334" y="2309">bez ograniczeń w specjalności</text><text x="6334" y="2316">konstrukcyjno-budowlanej</text>
<text x="6334" y="2340">UW-638/02</text><text x="6334" y="2347">do projektowania</text><text x="6334" y="2354">bez ograniczeń w specjalności</text><text x="6334" y="2361">konstrukcyjno-budowlanej</text>
<text x="6334" y="2385">UW-424/01</text><text x="6334" y="2392">do projektowania</text><text x="6334" y="2399">bez ograniczeń w specjalności</text><text x="6334" y="2406">konstrukcyjno-budowlanej</text>
<text x="6334" y="2428">SLK/1392/POOM/06</text><text x="6334" y="2435">do projektowania bez ograniczeń</text><text x="6334" y="2442">w specjalności mostowej</text>
</g>

<foreignObject x="201" y="1142" width="2253" height="558">
<div xmlns="http://www.w3.org/1999/xhtml" id="tbl">
<b>KABLE NR 11</b><i>1374</i><i>1226</i><i>1092</i><i>973</i><i>868</i><i>777</i><i>699</i><i>635</i><i>583</i><i>543</i><i>515</i><i>498</i><i>492</i><i>495</i><i>504</i><i>517</i><i>537</i><i>562</i><i>593</i><i>630</i><i>674</i><i>723</i><i>780</i><i>844</i><i>914</i><i>992</i><i>1077</i><i>1170</i><i>1271</i><i>1379</i><i>1496</i><i>1621</i><i>1755</i><i>1898</i><i>2043</i><i>2153</i><i>2193</i><i>2153</i><i>2043</i><i>1898</i><i>1782</i><i>1708</i><i>1669</i><i>1653</i><i>1653</i><i>1659</i><i>1662</i><i>1651</i><i>1629</i>
<b>KABLE NR 12</b><i>604</i><i>550</i><i>515</i><i>476</i><i>443</i><i>414</i><i>380</i><i>371</i><i>356</i><i>345</i><i>337</i><i>333</i><i>332</i><i>335</i><i>345</i><i>363</i><i>387</i><i>419</i><i>458</i><i>505</i><i>558</i><i>619</i><i>687</i><i>762</i><i>844</i><i>933</i><i>1029</i><i>1132</i><i>1243</i><i>1360</i><i>1484</i><i>1615</i><i>1753</i><i>1898</i><i>2043</i><i>2153</i><i>2193</i><i>2153</i><i>2043</i><i>1898</i><i>1782</i><i>1645</i><i>1544</i><i>1456</i><i>1385</i><i>1324</i><i>1272</i><i>1229</i><i>1189</i>
<b>KABLE NR 13</b><i>604</i><i>559</i><i>515</i><i>477</i><i>444</i><i>416</i><i>391</i><i>372</i><i>357</i><i>345</i><i>338</i><i>333</i><i>332</i><i>335</i><i>344</i><i>358</i><i>377</i><i>402</i><i>433</i><i>471</i><i>514</i><i>564</i><i>621</i><i>684</i><i>754</i><i>832</i><i>917</i><i>1010</i><i>1111</i><i>1219</i><i>1336</i><i>1462</i><i>1595</i><i>1738</i><i>1883</i><i>1993</i><i>2033</i><i>1993</i><i>1883</i><i>1738</i><i>1606</i><i>1504</i><i>1422</i><i>1358</i><i>1310</i><i>1277</i><i>1242</i><i>1215</i><i>1189</i>
<b>KABLE NR 14</b><i>604</i><i>532</i><i>464</i><i>405</i><i>353</i><i>308</i><i>270</i><i>239</i><i>214</i><i>195</i><i>182</i><i>175</i><i>172</i><i>175</i><i>184</i><i>198</i><i>217</i><i>242</i><i>273</i><i>310</i><i>354</i><i>404</i><i>460</i><i>524</i><i>594</i><i>672</i><i>757</i><i>850</i><i>951</i><i>1059</i><i>1176</i><i>1301</i><i>1435</i><i>1578</i><i>1723</i><i>1833</i><i>1873</i><i>1833</i><i>1723</i><i>1578</i><i>1423</i><i>1264</i><i>1107</i><i>957</i><i>822</i><i>706</i><i>618</i><i>561</i><i>529</i>
<b>KABLE NR 15</b><i>604</i><i>532</i><i>464</i><i>404</i><i>352</i><i>307</i><i>269</i><i>238</i><i>213</i><i>195</i><i>182</i><i>174</i><i>172</i><i>175</i><i>185</i><i>202</i><i>227</i><i>259</i><i>298</i><i>345</i><i>398</i><i>459</i><i>527</i><i>602</i><i>684</i><i>773</i><i>869</i><i>972</i><i>1083</i><i>1200</i><i>1324</i><i>1455</i><i>1593</i><i>1738</i><i>1883</i><i>1993</i><i>2033</i><i>1993</i><i>1883</i><i>1748</i><i>1578</i><i>1405</i><i>1229</i><i>1057</i><i>897</i><i>758</i><i>648</i><i>575</i><i>529</i>
<b>KABLE NR 21</b><i>1374</i><i>1226</i><i>1092</i><i>973</i><i>868</i><i>777</i><i>699</i><i>635</i><i>583</i><i>543</i><i>515</i><i>498</i><i>492</i><i>495</i><i>504</i><i>517</i><i>537</i><i>562</i><i>593</i><i>630</i><i>674</i><i>723</i><i>780</i><i>844</i><i>914</i><i>992</i><i>1077</i><i>1170</i><i>1271</i><i>1379</i><i>1496</i><i>1621</i><i>1755</i><i>1898</i><i>2043</i><i>2153</i><i>2193</i><i>2153</i><i>2043</i><i>1898</i><i>1782</i><i>1708</i><i>1669</i><i>1653</i><i>1653</i><i>1659</i><i>1662</i><i>1651</i><i>1629</i>
<b>KABLE NR 22</b><i>951</i><i>833</i><i>741</i><i>658</i><i>586</i><i>524</i><i>471</i><i>428</i><i>394</i><i>366</i><i>347</i><i>336</i><i>332</i><i>335</i><i>344</i><i>358</i><i>377</i><i>402</i><i>433</i><i>470</i><i>514</i><i>564</i><i>620</i><i>684</i><i>754</i><i>832</i><i>917</i><i>1010</i><i>1111</i><i>1219</i><i>1338</i><i>1461</i><i>1595</i><i>1738</i><i>1883</i><i>1993</i><i>2033</i><i>1993</i><i>1883</i><i>1738</i><i>1592</i><i>1451</i><i>1319</i><i>1199</i><i>1093</i><i>1004</i><i>935</i><i>880</i><i>859</i>
<b>KABLE NR 23</b><i>951</i><i>833</i><i>740</i><i>658</i><i>586</i><i>523</i><i>470</i><i>427</i><i>392</i><i>365</i><i>347</i><i>336</i><i>332</i><i>336</i><i>346</i><i>362</i><i>387</i><i>419</i><i>458</i><i>501</i><i>558</i><i>619</i><i>687</i><i>762</i><i>844</i><i>933</i><i>1029</i><i>1132</i><i>1243</i><i>1360</i><i>1484</i><i>1615</i><i>1753</i><i>1898</i><i>2043</i><i>2153</i><i>2193</i><i>2153</i><i>2043</i><i>1898</i><i>1746</i><i>1592</i><i>1442</i><i>1299</i><i>1169</i><i>1056</i><i>966</i><i>903</i><i>859</i>
<b>KABLE NR 24</b><i>274</i><i>258</i><i>239</i><i>222</i><i>208</i><i>198</i><i>189</i><i>183</i><i>178</i><i>174</i><i>173</i><i>172</i><i>172</i><i>175</i><i>185</i><i>203</i><i>227</i><i>259</i><i>298</i><i>345</i><i>398</i><i>459</i><i>527</i><i>602</i><i>684</i><i>773</i><i>869</i><i>973</i><i>1083</i><i>1200</i><i>1324</i><i>1455</i><i>1593</i><i>1738</i><i>1883</i><i>1993</i><i>2033</i><i>1993</i><i>1883</i><i>1738</i><i>1594</i><i>1458</i><i>1331</i><i>1216</i><i>1114</i><i>1026</i><i>955</i><i>901</i><i>859</i>
<b>KABLE NR 25</b><i>274</i><i>258</i><i>239</i><i>223</i><i>210</i><i>199</i><i>190</i><i>183</i><i>178</i><i>175</i><i>173</i><i>172</i><i>172</i><i>175</i><i>184</i><i>198</i><i>217</i><i>242</i><i>271</i><i>311</i><i>354</i><i>404</i><i>461</i><i>524</i><i>594</i><i>672</i><i>757</i><i>850</i><i>951</i><i>1059</i><i>1176</i><i>1302</i><i>1435</i><i>1578</i><i>1723</i><i>1833</i><i>1873</i><i>1833</i><i>1723</i><i>1578</i><i>1440</i><i>1317</i><i>1209</i><i>1116</i><i>1038</i><i>974</i><i>924</i><i>887</i><i>859</i>
</div>
</foreignObject>
</svg>
</body></html>
